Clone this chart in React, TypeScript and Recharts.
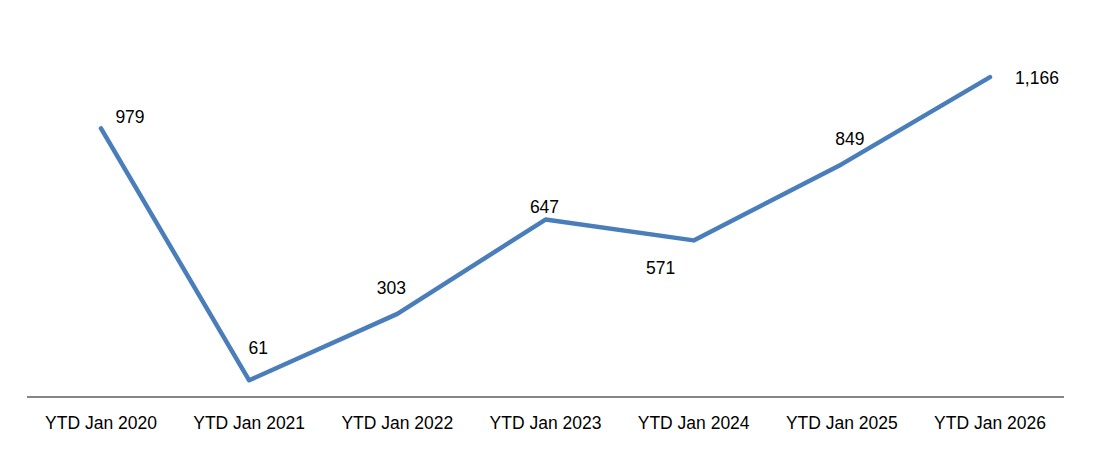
import { LineChart, Line, XAxis, YAxis } from 'recharts';

const categories = ['YTD Jan 2020', 'YTD Jan 2021', 'YTD Jan 2022', 'YTD Jan 2023', 'YTD Jan 2024', 'YTD Jan 2025', 'YTD Jan 2026'];
const values = [979, 61, 303, 647, 571, 849, 1166];

// label placement relative to each point (dx, dy of the text centre)
const labelOffsets = [
    [29, -11],
    [9, -32],
    [-6, -26],
    [-1, -13],
    [-33, 28],
    [8, -25],
    [47, 1],
];

const data = categories.map((name, i) => ({ name, value: values[i] }));

const FONT = '"Liberation Sans", Arial, sans-serif';

const PointLabel = (props: any) => {
    const { x, y, value, index } = props;
    const [dx, dy] = labelOffsets[index] || [0, -15];
    return (
        <text
            x={x + dx}
            y={y + dy}
            textAnchor="middle"
            dominantBaseline="central"
            fill="#000"
            fontSize={17.5}
            fontFamily={FONT}
        >
            {Number(value).toLocaleString('en-US')}
        </text>
    );
};

const App = () => {
    return (
        <div style={{ position: 'absolute', left: 0, top: 0, background: '#fff' }}>
            <LineChart width={1105} height={461} data={data} margin={{ top: 13, right: 41, bottom: 34, left: 27 }}>
                <XAxis
                    dataKey="name"
                    axisLine={{ stroke: '#868686', strokeWidth: 2 }}
                    tickLine={false}
                    tickMargin={14}
                    height={30}
                    interval={0}
                    padding={{ left: 74, right: 74 }}
                    tick={{ fill: '#000', fontSize: 17.5, fontFamily: FONT }}
                />
                <YAxis hide domain={[0, 1400]} />
                <Line
                    type="linear"
                    dataKey="value"
                    stroke="#4A7EBB"
                    strokeWidth={4.5}
                    strokeLinecap="round"
                    strokeLinejoin="round"
                    dot={false}
                    isAnimationActive={false}
                    label={<PointLabel />}
                />
            </LineChart>
        </div>
    );
};

export default App;
